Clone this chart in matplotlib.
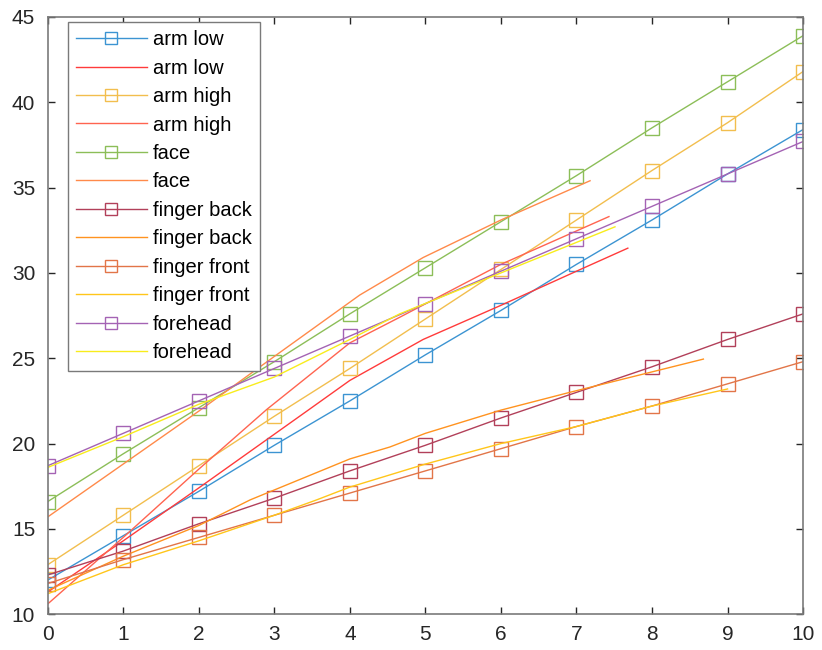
# Measured values vs fitted curves, one pair per body site
import matplotlib
matplotlib.use("Agg")
import matplotlib.pyplot as plt

plt.rcParams['font.family'] = ['Liberation Sans', 'DejaVu Sans']

# measured series (x = 0..10)
x = [0, 1, 2, 3, 4, 5, 6, 7, 8, 9, 10]
arm_low = [12.0, 14.6, 17.2, 19.9, 22.5, 25.2, 27.8, 30.5, 33.1, 35.8, 38.4]
arm_high = [12.9, 15.8, 18.7, 21.6, 24.4, 27.3, 30.2, 33.1, 36.0, 38.8, 41.8]
face = [16.6, 19.4, 22.1, 24.8, 27.6, 30.3, 33.0, 35.7, 38.5, 41.2, 43.9]
finger_back = [12.3, 13.7, 15.3, 16.8, 18.4, 19.9, 21.5, 23.0, 24.5, 26.1, 27.6]
finger_front = [11.8, 13.2, 14.5, 15.8, 17.1, 18.4, 19.7, 21.0, 22.2, 23.5, 24.8]
forehead = [18.7, 20.6, 22.5, 24.4, 26.3, 28.2, 30.1, 32.0, 33.9, 35.8, 37.7]

# fitted curves (each has its own x range)
arm_low_fit_x = [0, 1, 2, 3.43, 4, 4.97, 6, 7, 7.68]
arm_low_fit = [11.3, 14.3, 17.4, 21.9, 23.7, 26.1, 28.1, 30.1, 31.45]
arm_high_fit_x = [0, 1, 2, 2.9, 4, 4.66, 6, 7.43]
arm_high_fit = [10.6, 14.5, 18.5, 22.0, 25.9, 27.4, 30.5, 33.3]
face_fit_x = [0, 1, 2, 3.03, 4.13, 4.97, 6, 7.18]
face_fit = [15.7, 18.8, 21.9, 25.2, 28.7, 30.9, 33.1, 35.4]
finger_back_fit_x = [0, 1, 2, 2.68, 4, 4.53, 5, 6, 6.91, 8, 8.68]
finger_back_fit = [11.4, 13.4, 15.2, 16.7, 19.1, 19.8, 20.6, 21.96, 23.0, 24.2, 24.95]
finger_front_fit_x = [0, 1, 2, 3, 3.56, 4, 5, 6, 7, 8, 9]
finger_front_fit = [11.2, 12.9, 14.3, 15.8, 16.7, 17.45, 18.8, 20.0, 21.0, 22.2, 23.2]
forehead_fit_x = [0, 1, 2, 3, 4, 4.66, 6, 7.51]
forehead_fit = [18.6, 20.4, 22.3, 23.9, 26.1, 27.6, 30.0, 32.7]

fig = plt.figure(figsize=(8.22, 6.5), dpi=100)
ax = fig.add_axes([0.058, 0.055, 0.919, 0.919])

mk = dict(marker='s', markersize=9.5, markerfacecolor='none', markeredgewidth=1.0, linewidth=1.0)
fl = dict(linewidth=1.0)

ax.plot(x, arm_low, color='#3C94D2', label='arm low', **mk)
ax.plot(arm_low_fit_x, arm_low_fit, color='#FF3B3B', label='arm low', **fl)
ax.plot(x, arm_high, color='#F2BE4E', label='arm high', **mk)
ax.plot(arm_high_fit_x, arm_high_fit, color='#FF6450', label='arm high', **fl)
ax.plot(x, face, color='#8CBE58', label='face', **mk)
ax.plot(face_fit_x, face_fit, color='#FF8A4A', label='face', **fl)
ax.plot(x, finger_back, color='#B2405A', label='finger back', **mk)
ax.plot(finger_back_fit_x, finger_back_fit, color='#FF9320', label='finger back', **fl)
ax.plot(x, finger_front, color='#E27548', label='finger front', **mk)
ax.plot(finger_front_fit_x, finger_front_fit, color='#FFC61A', label='finger front', **fl)
ax.plot(x, forehead, color='#A463B4', label='forehead', **mk)
ax.plot(forehead_fit_x, forehead_fit, color='#F8EC1C', label='forehead', **fl)

ax.set_xlim(0, 10)
ax.set_ylim(10, 45)
ax.set_xticks(range(0, 11))
ax.set_yticks(range(10, 46, 5))
ax.tick_params(direction='in', length=5, width=1, top=True, right=True,
               labelsize=15, colors='#262626')
ax.tick_params(axis='x', pad=8)
ax.tick_params(axis='y', pad=9)
for s in ax.spines.values():
    s.set_color('#7a7a7a')
    s.set_linewidth(1.2)

leg = ax.legend(loc='upper left', bbox_to_anchor=(0.0265, 0.992), borderaxespad=0,
                fontsize=14.5, handlelength=3.5, handletextpad=0.3, labelspacing=0.47,
                fancybox=False, framealpha=1, edgecolor='#7a7a7a', borderpad=0.42,
                markerscale=0.85)
leg.get_frame().set_linewidth(1.0)

plt.savefig('out.png', dpi=100)
plt.close()
